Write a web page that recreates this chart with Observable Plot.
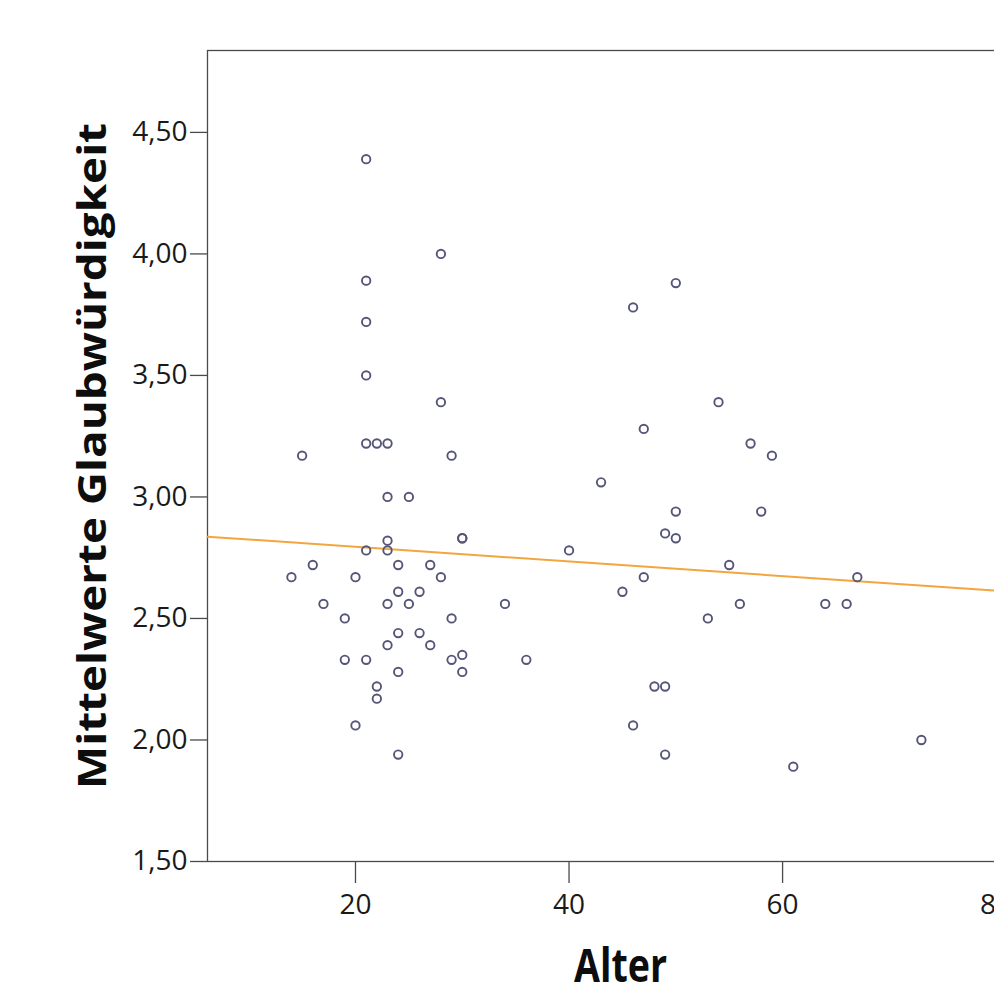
<!DOCTYPE html>
<html>
<head>
<meta charset="utf-8">
<script src="https://cdn.jsdelivr.net/npm/d3@7"></script>
<script src="https://cdn.jsdelivr.net/npm/@observablehq/plot@0.6"></script>
<style>
  html, body { margin: 0; padding: 0; background: #fff; overflow: hidden; }
  #chart svg { display: block; max-width: none !important; }
</style>
</head>
<body>
<div id="chart"></div>
<script>
// Data
const alter = [21, 28, 21, 50, 46, 21, 21, 28, 54, 47,
  21, 22, 23, 57, 15, 29, 59, 43, 23, 25,
  50, 58, 49, 23, 30, 30, 50, 21, 23, 40,
  16, 24, 27, 55, 14, 20, 28, 47, 67, 24,
  26, 45, 17, 23, 25, 34, 56, 64, 66, 19,
  29, 53, 24, 26, 23, 27, 30, 19, 21, 29,
  36, 24, 30, 22, 48, 49, 22, 20, 46, 73,
  24, 49, 61];
const glaubwuerdigkeit = [4.39, 4.00, 3.89, 3.88, 3.78, 3.72, 3.50, 3.39, 3.39, 3.28,
  3.22, 3.22, 3.22, 3.22, 3.17, 3.17, 3.17, 3.06, 3.00, 3.00,
  2.94, 2.94, 2.85, 2.82, 2.83, 2.83, 2.83, 2.78, 2.78, 2.78,
  2.72, 2.72, 2.72, 2.72, 2.67, 2.67, 2.67, 2.67, 2.67, 2.61,
  2.61, 2.61, 2.56, 2.56, 2.56, 2.56, 2.56, 2.56, 2.56, 2.50,
  2.50, 2.50, 2.44, 2.44, 2.39, 2.39, 2.35, 2.33, 2.33, 2.33,
  2.33, 2.28, 2.28, 2.22, 2.22, 2.22, 2.17, 2.06, 2.06, 2.00,
  1.94, 1.94, 1.89];

// Fit line (total)
const fitIntercept = 2.855;
const fitSlope = -0.00301;

const xTicks = [20, 40, 60, 80];
const yTicks = [1.5, 2.0, 2.5, 3.0, 3.5, 4.0, 4.5];
const xDomain = [6.14, 83.5];
const yDomain = [1.5, 4.837];

const yTitle = "Mittelwerte Glaubwürdigkeit";
const xTitle = "Alter";

const points = alter.map((a, i) => ({alter: a, wert: glaubwuerdigkeit[i]}));
const fit = xDomain.map(a => ({alter: a, wert: fitIntercept + fitSlope * a}));

const fmt = v => d3.format(".2f")(v).replace(".", ",");
const font = "'Open Sans', sans-serif";

const chart = Plot.plot({
  width: 1040,
  height: 983,
  marginLeft: 207,
  marginTop: 50,
  marginBottom: 122,
  marginRight: 7,
  style: {fontFamily: font, background: "#fff", color: "#222", maxWidth: "none"},
  x: {domain: xDomain},
  y: {domain: yDomain},
  marks: [
    Plot.frame({stroke: "#4a4a4a", strokeWidth: 1.3}),
    Plot.axisY({ticks: yTicks, tickFormat: fmt, tickSize: 17, tickPadding: 3,
      fontSize: 28, label: null, stroke: "#4a4a4a", strokeWidth: 1.3, fill: "#1a1a1a"}),
    Plot.axisX({ticks: xTicks, tickFormat: d => String(d), tickSize: 22, tickPadding: 11,
      fontSize: 28, label: null, stroke: "#4a4a4a", strokeWidth: 1.3, fill: "#1a1a1a"}),
    Plot.line(fit, {x: "alter", y: "wert", stroke: "#f2a640", strokeWidth: 2}),
    Plot.dot(points, {x: "alter", y: "wert", r: 4.2, stroke: "#55557a", strokeWidth: 1.9, fill: "none"}),
    Plot.text([yTitle], {frameAnchor: "left", rotate: -90, dx: -114,
      textAnchor: "middle", text: d => d, fontSize: 40, fontWeight: "bold", fill: "#0d0d0d", fontFamily: font}),
    Plot.text([xTitle], {frameAnchor: "bottom", dy: 120, textAnchor: "middle", text: d => d,
      fontSize: 46, fontWeight: "bold", fill: "#0d0d0d", fontFamily: font})
  ]
});
// Narrow the bold titles to the reference's condensed width
d3.select(chart).selectAll("text").each(function() {
  const t = this.textContent;
  if (t === yTitle) d3.select(this).attr("textLength", 666).attr("lengthAdjust", "spacingAndGlyphs");
  if (t === xTitle) d3.select(this).attr("textLength", 93).attr("lengthAdjust", "spacingAndGlyphs");
});
document.getElementById("chart").appendChild(chart);
</script>
</body>
</html>
